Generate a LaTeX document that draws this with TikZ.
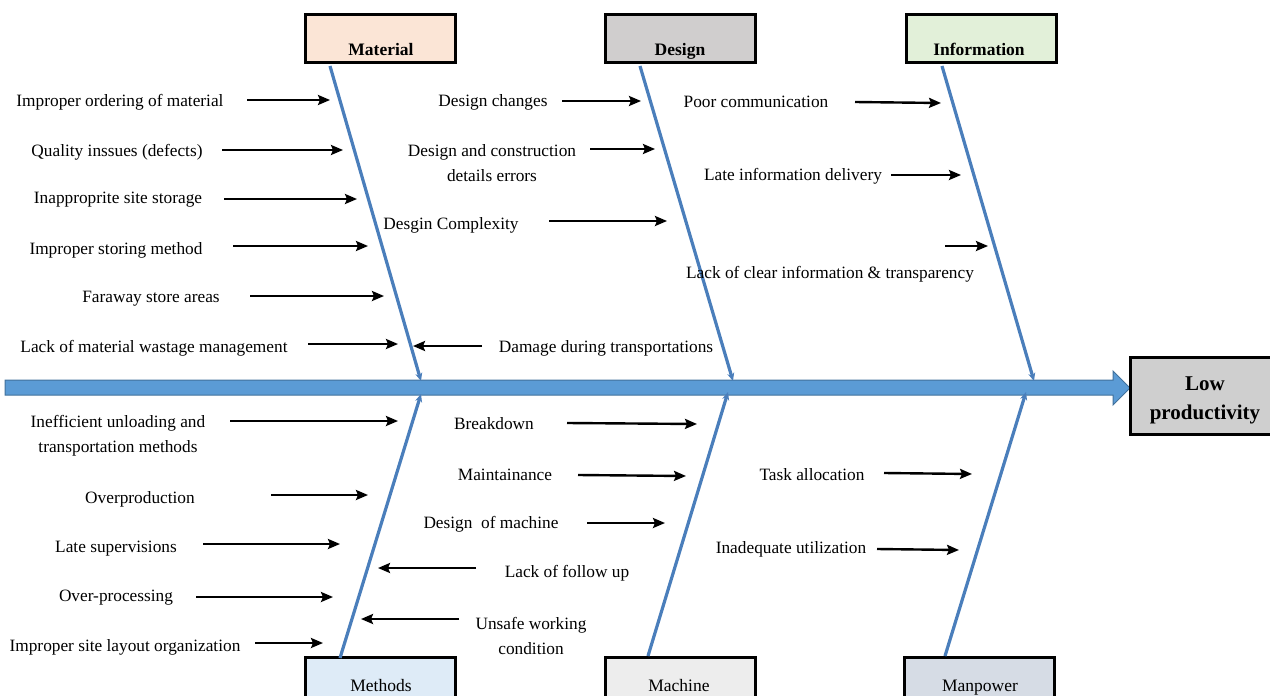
\documentclass[tikz,border=0pt]{standalone}
\usepackage{fontspec}
\setmainfont{Liberation Serif}
\usetikzlibrary{arrows.meta}
\definecolor{spinefill}{HTML}{5B9BD5}
\definecolor{spineedge}{HTML}{41719C}
\definecolor{bonecol}{HTML}{4A7EBB}
\definecolor{matfill}{HTML}{FBE5D6}
\definecolor{desfill}{HTML}{D0CECE}
\definecolor{inffill}{HTML}{E2F0D9}
\definecolor{metfill}{HTML}{DEEBF7}
\definecolor{macfill}{HTML}{EDEDED}
\definecolor{manfill}{HTML}{D6DCE5}
\definecolor{headfill}{HTML}{CFCFCF}
\tikzset{
  txt/.style={inner sep=0pt, align=center, yshift=-2pt, font=\fontsize{17.3}{25}\selectfont},
  cause/.style={draw=black, line width=2.4pt, -{Stealth[length=12pt,width=10pt,inset=2pt]}},
  bone/.style={draw=bonecol, line width=3.2pt, -{Stealth[length=8pt,width=7pt]}},
  catbox/.style={draw=black, line width=3pt, minimum width=150pt, minimum height=48pt,
    inner sep=0pt},
  catlabel/.style={inner sep=0pt, anchor=base, font=\fontsize{17.5}{20}\selectfont}
}
\begin{document}
\begin{tikzpicture}[x=1pt,y=-1pt]
\useasboundingbox (0,0) rectangle (1270,696);

% main spine with arrow head
\filldraw[fill=spinefill, draw=spineedge, line width=1pt]
  (5,380) -- (1113,380) -- (1113,371) -- (1130,388) -- (1113,405) -- (1113,395) -- (5,395) -- cycle;

% effect box
\node[draw=black, line width=3pt, fill=headfill, minimum width=145pt, minimum height=77pt,
  inner sep=0pt, anchor=west] (effect) at (1129,396) {};
\node[inner sep=0pt, align=center, font=\fontsize{21}{29}\selectfont\bfseries] (effecttxt)
  at (1205,400) {Low\\productivity};

% category boxes
\node[catbox, fill=matfill] (mat) at (380,38) {};
\node[catbox, fill=desfill] (des) at (680,38) {};
\node[catbox, fill=inffill] (inf) at (981,38) {};
\node[catbox, fill=metfill] (met) at (380,681) {};
\node[catbox, fill=macfill] (mac) at (680,681) {};
\node[catbox, fill=manfill] (man) at (979,681) {};

\node[catlabel, font=\fontsize{17.5}{20}\selectfont\bfseries] (matlbl) at (381,55) {Material};
\node[catlabel, font=\fontsize{17.5}{20}\selectfont\bfseries] (deslbl) at (680,55) {Design};
\node[catlabel, font=\fontsize{17.5}{20}\selectfont\bfseries] (inflbl) at (979,55) {Information};
\node[catlabel] (metlbl) at (381,691) {Methods};
\node[catlabel] (maclbl) at (679,691) {Machine};
\node[catlabel] (manlbl) at (980,691) {Manpower};

% bones
\draw[bone] (330,66) -- (421,381);
\draw[bone] (640,66) -- (733,381);
\draw[bone] (942,66) -- (1034,381);
\draw[bone] (340,658) -- (421,394);
\draw[bone] (648,656) -- (728,392);
\draw[bone] (945,656) -- (1026,392);

% Material causes
\node[txt] (m1) at (120,100) {Improper ordering of material};
\node[txt] (m2) at (117,150) {Quality inssues (defects)};
\node[txt] (m3) at (118,198) {Inapproprite site storage};
\node[txt] (m4) at (116,248) {Improper storing method};
\node[txt] (m5) at (151,297) {Faraway store areas};
\node[txt] (m6) at (154,346) {Lack of material wastage management};
\node[txt] (m7) at (606,346) {Damage during transportations};
\draw[cause] (247,100) -- (330,100);
\draw[cause] (222,150) -- (343,150);
\draw[cause] (224,199) -- (357,199);
\draw[cause] (233,246) -- (368,246);
\draw[cause] (250,296) -- (384,296);
\draw[cause] (308,344) -- (398,344);
\draw[cause] (482,346) -- (413,346);

% Design causes
\node[txt] (d1) at (493,100) {Design changes};
\node[txt] (d2) at (492,161) {Design and construction\\details errors};
\node[txt] (d3) at (451,223) {Desgin Complexity};
\draw[cause] (562,101) -- (641,101);
\draw[cause] (590,149) -- (655,149);
\draw[cause] (549,221) -- (667,221);

% Information causes
\node[txt] (i1) at (756,100) {Poor communication};
\node[txt] (i2) at (793,174) {Late information delivery};
\node[txt] (i3) at (830,272) {Lack of clear information \& transparency};
\draw[cause] (855,102) -- (941,103);
\draw[cause] (891,175) -- (961,175);
\draw[cause] (945,246) -- (988,246);

% Methods causes
\node[txt] (t1) at (118,434) {Inefficient unloading and\\transportation methods};
\node[txt] (t2) at (140,497) {Overproduction};
\node[txt] (t3) at (116,547) {Late supervisions};
\node[txt] (t4) at (116,596) {Over-processing};
\node[txt] (t5) at (125,645) {Improper site layout organization};
\node[txt] (t6) at (567,571) {Lack of follow up};
\node[txt] (t7) at (531,634) {Unsafe working\\condition};
\draw[cause] (230,421) -- (398,421);
\draw[cause] (271,495) -- (368,495);
\draw[cause] (203,544) -- (340,544);
\draw[cause] (196,597) -- (333,597);
\draw[cause] (255,643) -- (323,643);
\draw[cause] (476,568) -- (378,568);
\draw[cause] (459,619) -- (361,619);

% Machine causes
\node[txt] (c1) at (494,422) {Breakdown};
\node[txt] (c2) at (505,473) {Maintainance};
\node[txt] (c3) at (491,522) {Design\ \ of machine};
\draw[cause] (567,423) -- (697,424);
\draw[cause] (578,475) -- (686,476);
\draw[cause] (587,523) -- (665,523);

% Manpower causes
\node[txt] (p1) at (812,473) {Task allocation};
\node[txt] (p2) at (791,547) {Inadequate utilization};
\draw[cause] (884,473) -- (972,474);
\draw[cause] (877,549) -- (959,550);
\end{tikzpicture}
\end{document}
